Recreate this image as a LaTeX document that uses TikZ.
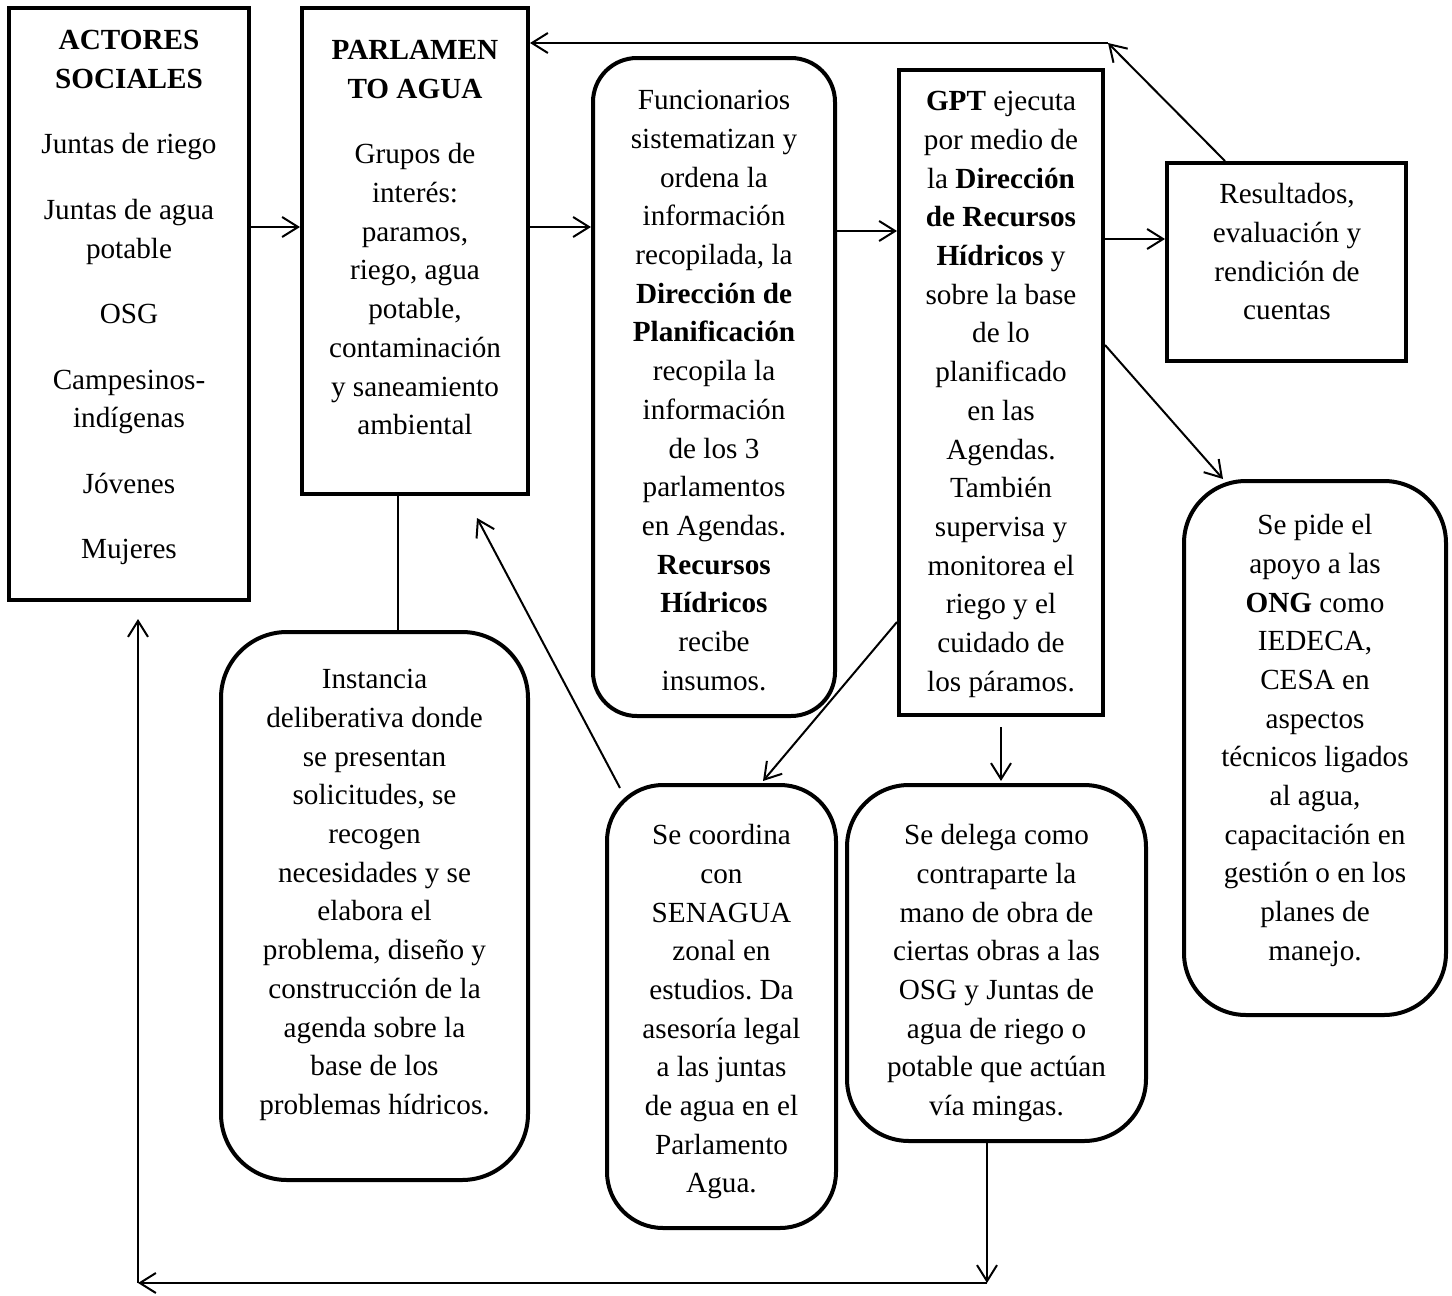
\documentclass[tikz,border=0pt]{standalone}
\usepackage{fontspec}
\setmainfont{Liberation Serif}
\usetikzlibrary{arrows.meta}
\frenchspacing
\begin{document}
\begin{tikzpicture}[x=0.5pt,y=-0.5pt,
  sqbox/.style={draw, line width=2pt, inner sep=0pt, rectangle},
  rdbox/.style={draw, line width=2pt, inner sep=0pt, rectangle, rounded corners=#1},
  txt/.style={align=center, inner sep=0pt, anchor=north, font=\fontsize{14.6pt}{19.35pt}\selectfont},
  ln/.style={line width=1pt},
  arr/.style={line width=1pt, -{Straight Barb[length=8pt,width=10pt]}}]
\useasboundingbox (0,0) rectangle (1452,1296);

% boxes
\node[sqbox, minimum width=120pt, minimum height=296pt] (actores) at (129,304) {};
\node[sqbox, minimum width=113pt, minimum height=243pt] (parl) at (415,251) {};
\node[rdbox=22pt, minimum width=121pt, minimum height=329pt] (func) at (714,387) {};
\node[sqbox, minimum width=102pt, minimum height=322.5pt] (gpt) at (1001,392.5) {};
\node[sqbox, minimum width=119.5pt, minimum height=99pt] (res) at (1286.5,262) {};
\node[rdbox=31pt, minimum width=131pt, minimum height=267pt] (ong) at (1315,748) {};
\node[rdbox=33pt, minimum width=153.5pt, minimum height=274pt] (inst) at (374.5,906) {};
\node[rdbox=28pt, minimum width=114.5pt, minimum height=221.5pt] (coord) at (721.5,1006.5) {};
\node[rdbox=31pt, minimum width=149.5pt, minimum height=178pt] (deleg) at (996.5,963) {};

% texts
\node[txt] (tactores) at (129,30) {\textbf{ACTORES}\\\textbf{SOCIALES}\\[13.4pt]Juntas de riego\\[13.4pt]Juntas de agua\\potable\\[13.4pt]OSG\\[13.4pt]Campesinos-\\indígenas\\[13.4pt]Jóvenes\\[13.4pt]Mujeres};
\node[txt] (tparl) at (415,40) {\textbf{PARLAMEN}\\\textbf{TO AGUA}\\[13.4pt]Grupos de\\interés:\\paramos,\\riego, agua\\potable,\\contaminación\\y saneamiento\\ambiental};
\node[txt] (tfunc) at (714,90) {Funcionarios\\sistematizan y\\ordena la\\información\\recopilada, la\\\textbf{Dirección de}\\\textbf{Planificación}\\recopila la\\información\\de los 3\\parlamentos\\en Agendas.\\\textbf{Recursos}\\\textbf{Hídricos}\\recibe\\insumos.};
\node[txt] (tgpt) at (1001,91) {\textbf{GPT} ejecuta\\por medio de\\la \textbf{Dirección}\\\textbf{de Recursos}\\\textbf{Hídricos} y\\sobre la base\\de lo\\planificado\\en las\\Agendas.\\También\\supervisa y\\monitorea el\\riego y el\\cuidado de\\los páramos.};
\node[txt] (tres) at (1287,183) {Resultados,\\evaluación y\\rendición de\\cuentas};
\node[txt] (tong) at (1315,514) {Se pide el\\apoyo a las\\\textbf{ONG} como\\IEDECA,\\CESA en\\aspectos\\técnicos ligados\\al agua,\\capacitación en\\gestión o en los\\planes de\\manejo.};
\node[txt] (tinst) at (374.5,669) {Instancia\\deliberativa donde\\se presentan\\solicitudes, se\\recogen\\necesidades y se\\elabora el\\problema, diseño y\\construcción de la\\agenda sobre la\\base de los\\problemas hídricos.};
\node[txt] (tcoord) at (721.5,824) {Se coordina\\con\\SENAGUA\\zonal en\\estudios. Da\\asesoría legal\\a las juntas\\de agua en el\\Parlamento\\Agua.};
\node[txt] (tdeleg) at (996.5,824) {Se delega como\\contraparte la\\mano de obra de\\ciertas obras a las\\OSG y Juntas de\\agua de riego o\\potable que actúan\\vía mingas.};

% coordinates
\coordinate (topc) at (1108,43);
\coordinate (ptip) at (477,518);
\coordinate (br) at (987,1283);
\coordinate (bl) at (138,1283);

% connectors
\draw[arr] ([yshift=38.5pt]actores.east) -- ([yshift=12pt]parl.west);
\draw[arr] ([yshift=12pt]parl.east) -- ([yshift=80pt]func.west);
\draw[arr] ([yshift=78pt]func.east) -- ([yshift=80.75pt]gpt.west);
\draw[arr] ([yshift=76.75pt]gpt.east) -- ([yshift=11.5pt]res.west);
\draw[arr] ([xshift=-30.75pt]res.north) -- (topc);
\draw[arr] (topc) -- (parl.east |- topc);
\draw[ln] ([xshift=-8.5pt]parl.south) -- ([xshift=-8.5pt]parl.south |- inst.north);
\draw[arr] ([xshift=-50.75pt,yshift=-2.5pt]coord.north) -- (ptip);
\draw[arr] ([yshift=-114.75pt]gpt.west) -- ([xshift=20.75pt,yshift=1pt]coord.north);
\draw[arr] ([yshift=-5pt]gpt.south) -- ([yshift=1pt]gpt.south |- deleg.north);
\draw[arr] ([yshift=23.75pt]gpt.east) -- ([xshift=-46pt]ong.north);
\draw[arr] ([xshift=-4.75pt]deleg.south) -- (br);
\draw[arr] (br) -- (bl);
\draw[arr] (bl) -- ([yshift=-8.5pt]actores.south -| bl);
\end{tikzpicture}
\end{document}
